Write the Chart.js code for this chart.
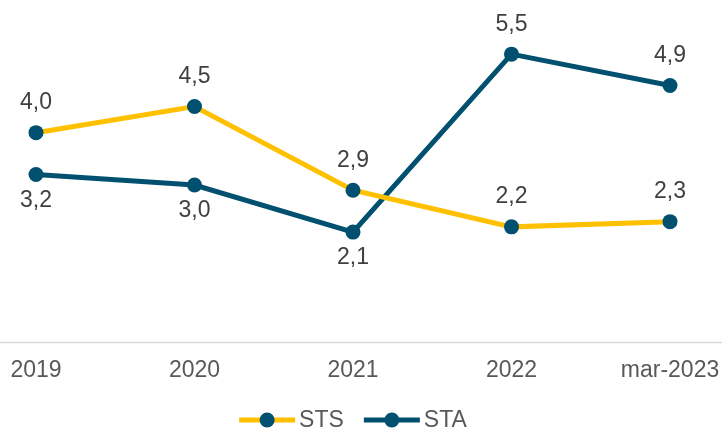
<!DOCTYPE html>
<html>
<head>
<meta charset="utf-8">
<script src="https://cdn.jsdelivr.net/npm/chart.js@4.4.1/dist/chart.umd.min.js"></script>
<style>
  html, body { margin: 0; padding: 0; background: #ffffff; }
  #wrap { width: 722px; height: 431px; position: relative; }
</style>
</head>
<body>
<div id="wrap"><canvas id="c"></canvas></div>
<script>
const categories = ['2019', '2020', '2021', '2022', 'mar-2023'];
const stsValues = [4.0, 4.5, 2.9, 2.2, 2.3];
const staValues = [3.2, 3.0, 2.1, 5.5, 4.9];
const seriesNames = ['STS', 'STA'];

const YELLOW = '#FFC000';
const TEAL = '#02506F';
const FONT = '"Liberation Sans", Arial, sans-serif';

const dataLabels = {
  id: 'dataLabels',
  afterDatasetsDraw(chart) {
    const ctx = chart.ctx;
    ctx.save();
    ctx.font = '23px ' + FONT;
    ctx.fillStyle = '#404040';
    ctx.textAlign = 'center';
    ctx.textBaseline = 'middle';
    chart.data.datasets.forEach((ds, i) => {
      const meta = chart.getDatasetMeta(i);
      meta.data.forEach((pt, j) => {
        const pos = ds.labelPos[j];
        const y = pos === 'top' ? pt.y - 30 : pt.y + 26;
        ctx.fillText(ds.data[j].toFixed(1).replace('.', ','), pt.x, y);
      });
    });
    ctx.restore();
  }
};

const axisLine = {
  id: 'axisLine',
  beforeDatasetsDraw(chart) {
    const ctx = chart.ctx;
    const y = Math.round(chart.scales.y.getPixelForValue(0)) + 0.5;
    ctx.save();
    ctx.strokeStyle = '#D9D9D9';
    ctx.lineWidth = 1.5;
    ctx.beginPath(); ctx.moveTo(0, y); ctx.lineTo(chart.width, y); ctx.stroke();
    ctx.restore();
  }
};

const customLegend = {
  id: 'customLegend',
  afterDraw(chart) {
    const ctx = chart.ctx;
    ctx.save();
    ctx.font = '23px ' + FONT;
    ctx.textBaseline = 'middle';
    ctx.textAlign = 'left';
    const iconW = 56, gap = 4, spacing = 20;
    const items = chart.data.datasets.map(ds => ({ ds, w: iconW + gap + ctx.measureText(ds.label).width }));
    const total = items.reduce((s, it) => s + it.w, 0) + spacing * (items.length - 1);
    const ca = chart.chartArea;
    let x = (ca.left + ca.right) / 2 - total / 2;
    const y = 420;
    items.forEach(it => {
      ctx.strokeStyle = it.ds.borderColor;
      ctx.lineWidth = 5;
      ctx.beginPath(); ctx.moveTo(x, y); ctx.lineTo(x + iconW, y); ctx.stroke();
      ctx.fillStyle = it.ds.pointBackgroundColor;
      ctx.beginPath(); ctx.arc(x + iconW / 2, y, 7.5, 0, Math.PI * 2); ctx.fill();
      ctx.fillStyle = '#595959';
      ctx.fillText(it.ds.label, x + iconW + gap, y + 1);
      x += it.w + spacing;
    });
    ctx.restore();
  }
};

new Chart(document.getElementById('c'), {
  type: 'line',
  data: {
    labels: categories,
    datasets: [
      {
        label: seriesNames[0], data: stsValues,
        borderColor: YELLOW, borderWidth: 5,
        pointBackgroundColor: TEAL, pointBorderColor: TEAL,
        pointRadius: 7.5, pointBorderWidth: 0, tension: 0,
        labelPos: ['top', 'top', 'top', 'top', 'top']
      },
      {
        label: seriesNames[1], data: staValues,
        borderColor: TEAL, borderWidth: 5,
        pointBackgroundColor: TEAL, pointBorderColor: TEAL,
        pointRadius: 7.5, pointBorderWidth: 0, tension: 0,
        labelPos: ['bottom', 'bottom', 'bottom', 'top', 'top']
      }
    ]
  },
  options: {
    responsive: true,
    maintainAspectRatio: false,
    animation: false,
    clip: false,
    layout: { padding: { top: 28, left: 36, right: 52, bottom: 47 } },
    scales: {
      x: {
        offset: false,
        grid: { display: false, drawTicks: false },
        border: { display: false },
        ticks: { color: '#595959', font: { family: FONT, size: 23 }, padding: 15, maxRotation: 0, autoSkip: false },
        afterFit(scale) {
          scale.height = 42;
          scale.paddingLeft = 0;
          scale.paddingRight = 0;
        }
      },
      y: { display: false, min: 0, max: 6 }
    },
    plugins: {
      tooltip: { enabled: false },
      legend: { display: false }
    }
  },
  plugins: [axisLine, dataLabels, customLegend]
});
</script>
</body>
</html>
